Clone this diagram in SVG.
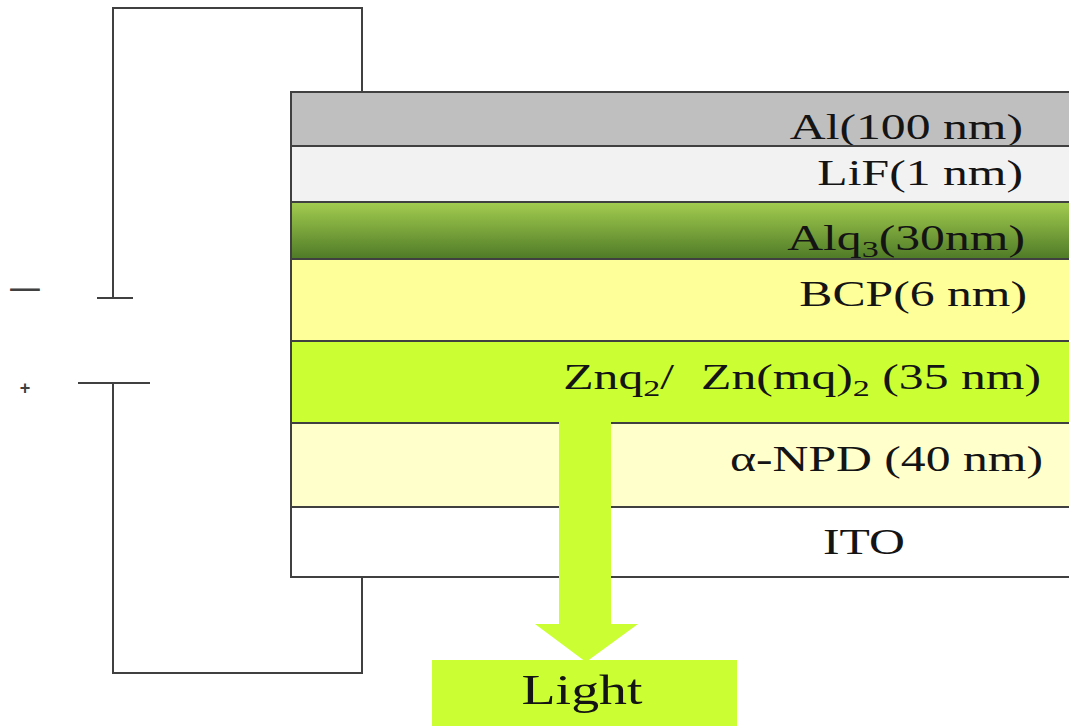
<svg xmlns="http://www.w3.org/2000/svg" width="1069" height="726" viewBox="0 0 1069 726">
<style>
.lbl{font-family:"Liberation Serif","Times New Roman",serif;font-size:35px;fill:#141414;}
.big{font-size:42px;}
.wire{fill:none;stroke:#404040;stroke-width:2;}
.layer{stroke:#404040;stroke-width:2;}
.sign{font-family:"Liberation Sans",Arial,sans-serif;fill:#404040;}
</style>
<defs>
<linearGradient id="alq" x1="0" y1="0" x2="0" y2="1">
<stop offset="0" stop-color="#a3cd4f"/>
<stop offset="1" stop-color="#4f7a27"/>
</linearGradient>
</defs>
<g id="connectors">
<polyline class="wire" points="113,298 113,8 362,8 362,92"/>
<polyline class="wire" points="113,383 113,673 362,673 362,577"/>
<line class="wire" x1="97" y1="298" x2="133" y2="298"/>
<line class="wire" x1="78" y1="383" x2="150" y2="383"/>
</g>
<text class="sign" transform="translate(25,301) scale(1.8,1)" text-anchor="middle" font-size="34">−</text>
<text class="sign" x="25" y="394" text-anchor="middle" font-size="18" font-weight="bold">+</text>
<g id="al"><rect class="layer" x="291" y="92" width="790" height="54" fill="#bfbfbf"/>
<text class="lbl" transform="translate(1023,139) scale(1.42,1)" text-anchor="end">Al(100 nm)</text></g>
<g id="lif"><rect class="layer" x="291" y="146" width="790" height="56" fill="#f2f2f2"/>
<text class="lbl" transform="translate(1023,185) scale(1.42,1)" text-anchor="end">LiF(1 nm)</text></g>
<g id="alq3"><rect class="layer" x="291" y="202" width="790" height="57" fill="url(#alq)"/>
<text class="lbl" transform="translate(1025,250) scale(1.42,1)" text-anchor="end">Alq<tspan font-size="24" dy="7">3</tspan><tspan dy="-7">(30nm)</tspan></text></g>
<g id="bcp"><rect class="layer" x="291" y="259" width="790" height="82" fill="#ffff99"/>
<text class="lbl" transform="translate(1027,306) scale(1.42,1)" text-anchor="end">BCP(6 nm)</text></g>
<g id="znq"><rect class="layer" x="291" y="341" width="790" height="82" fill="#ccff33"/>
<text class="lbl" transform="translate(1041,389) scale(1.42,1)" text-anchor="end">Znq<tspan font-size="24" dy="7">2</tspan><tspan dy="-7">/</tspan><tspan dx="19">Zn(mq)</tspan><tspan font-size="24" dy="7">2</tspan><tspan dy="-7"> (35 nm)</tspan></text></g>
<g id="npd"><rect class="layer" x="291" y="423" width="790" height="84" fill="#ffffcc"/>
<text class="lbl" transform="translate(1043,471) scale(1.42,1)" text-anchor="end">α-NPD (40 nm)</text></g>
<g id="ito"><rect class="layer" x="291" y="507" width="790" height="70" fill="#ffffff"/>
<text class="lbl" transform="translate(864,554) scale(1.42,1)" text-anchor="middle">ITO</text></g>
<g id="arrow"><polygon points="559,422 611,422 611,624 638,624 586,662 535,624 559,624" fill="#ccff33"/></g>
<g id="light"><rect x="432" y="660" width="305" height="70" fill="#ccff33"/>
<text class="lbl big" transform="translate(582,704) scale(1.33,1)" text-anchor="middle">Light</text></g>
</svg>
